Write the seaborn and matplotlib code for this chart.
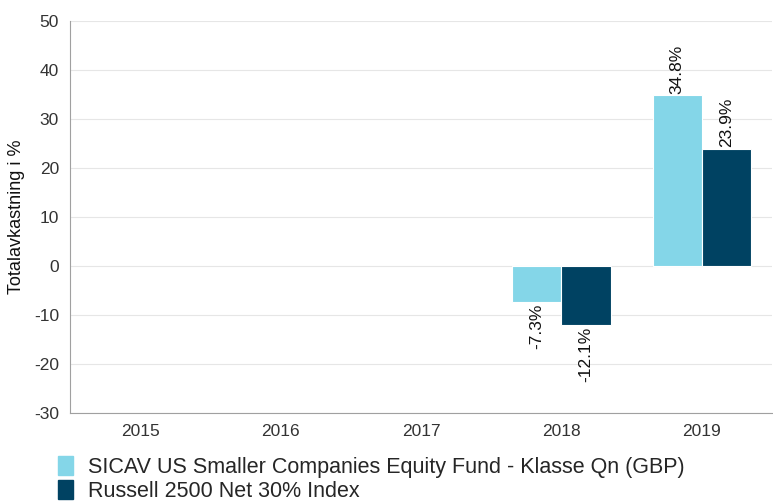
import numpy as np
import pandas as pd
import seaborn as sns
import matplotlib.pyplot as plt

years = ["2015", "2016", "2017", "2018", "2019"]
fund_name = "SICAV US Smaller Companies Equity Fund - Klasse Qn (GBP)"
index_name = "Russell 2500 Net 30% Index"
data_years = ["2018", "2019"]
fund_returns = [-7.3, 34.8]
index_returns = [-12.1, 23.9]

colors = ["#84D6E8", "#004262"]

df = pd.DataFrame({
    "year": data_years * 2,
    "series": [fund_name] * len(data_years) + [index_name] * len(data_years),
    "value": fund_returns + index_returns,
})

sns.set_style("white")
plt.rcParams["font.family"] = ["Liberation Sans", "DejaVu Sans"]
plt.rcParams["axes.unicode_minus"] = False

fig = plt.figure(figsize=(7.73, 5.01), dpi=100)
ax = fig.add_axes([70 / 773, 1 - 413 / 501, 702 / 773, 392 / 501])

sns.barplot(data=df, x="year", y="value", hue="series", order=years,
            hue_order=[fund_name, index_name], palette=colors, width=0.7,
            saturation=1, edgecolor="white", linewidth=0.8, ax=ax, legend=False)

ax.set_ylim(-30, 50)
ax.set_yticks(range(-30, 51, 10))
ax.set_xlim(-0.5, 4.5)
ax.yaxis.grid(True, color="#E6E6E6", linewidth=0.8)
ax.set_axisbelow(True)
for side in ["top", "right"]:
    ax.spines[side].set_visible(False)
ax.spines["left"].set_color("#A0A0A0")
ax.spines["bottom"].set_color("#A0A0A0")
ax.tick_params(axis="both", length=0, labelsize=12.5, labelcolor="#333333", pad=8)
ax.set_xlabel("")
ax.set_ylabel("Totalavkastning i %", fontsize=13, color="#111111", labelpad=6)

for cont in ax.containers:
    for bar in cont:
        h = bar.get_height()
        if np.isnan(h):
            continue
        x = bar.get_x() + bar.get_width() / 2
        va = "bottom" if h >= 0 else "top"
        off = 0.3 if h >= 0 else -0.3
        ax.text(x, h + off, f"{h:.1f}%", rotation=90, ha="center", va=va,
                fontsize=12.5, color="#111111", clip_on=False)

handles = [plt.Rectangle((0, 0), 1, 1, color=c) for c in colors]
fig.legend(handles, [fund_name, index_name], loc="upper left",
           bbox_to_anchor=(58 / 773, 1 - 456 / 501), frameon=False,
           fontsize=15.5, handlelength=0.7, handleheight=1.0, handletextpad=0.7,
           labelspacing=0.1, borderaxespad=0, borderpad=0)

fig.savefig("out.png", dpi=100)
